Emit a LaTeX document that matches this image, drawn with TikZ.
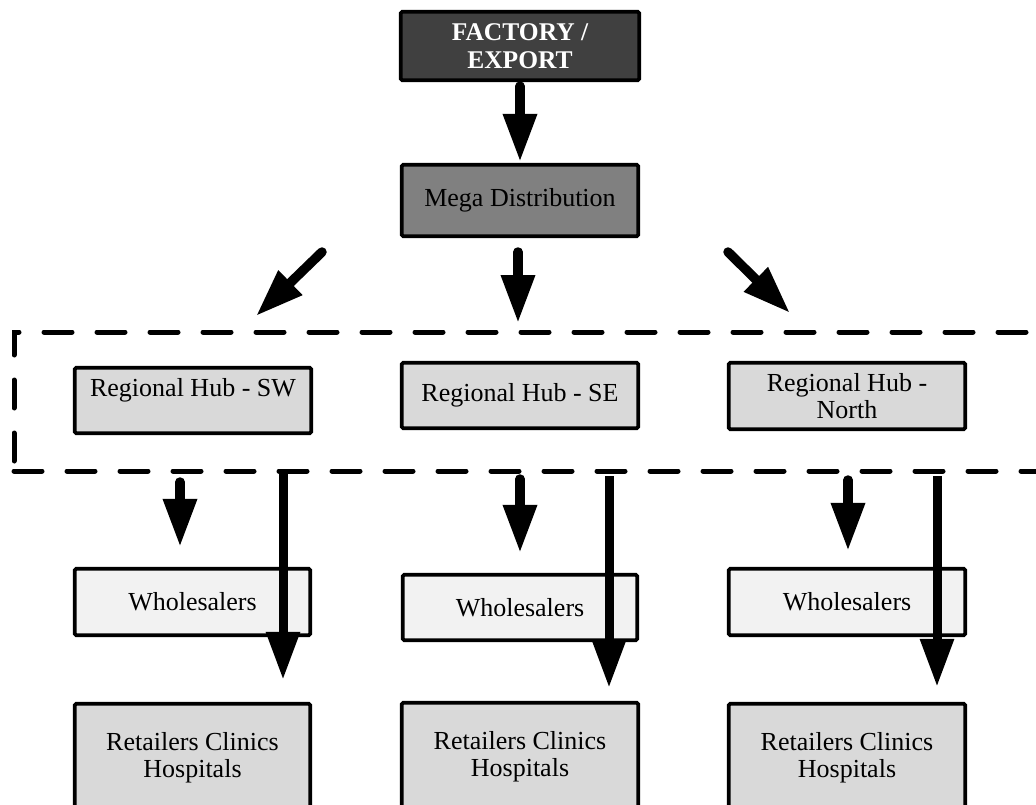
\documentclass[tikz,border=0pt]{standalone}
\usepackage{fontspec}
\setmainfont{Liberation Serif}
\usetikzlibrary{arrows.meta}
\definecolor{factoryfill}{HTML}{404040}
\definecolor{megafill}{HTML}{808080}
\definecolor{hubfill}{HTML}{D9D9D9}
\definecolor{wholefill}{HTML}{F2F2F2}
\definecolor{retailfill}{HTML}{D9D9D9}
\begin{document}
\begin{tikzpicture}[x=1pt,y=-1pt,
  box/.style={draw=black, line width=3.8pt, rounded corners=1.5pt,
    align=center, inner sep=0pt, font=\fontsize{26}{27}\selectfont},
  zone/.style={draw=black, line width=5pt, line cap=round,
    dash pattern=on 28pt off 25pt, inner sep=0pt},
  arr/.style={line width=9.5pt, line cap=round,
    -{Triangle[width=32pt,length=48pt]}},
  longarr/.style={line width=9pt,
    -{Triangle[width=32pt,length=48pt]}}
]
\clip (0,0) rectangle (1036,805);
\fill[white] (0,0) rectangle (1036,805);

% top of the chain
\node[box, fill=factoryfill, text=white, font=\fontsize{25.5}{28}\selectfont\bfseries,
      minimum width=238.5pt, minimum height=68.5pt] (factory) at (520,46) {FACTORY /\\EXPORT};
\node[box, fill=megafill, minimum width=236.5pt, minimum height=71.5pt] (mega) at (520,200.5) {Mega Distribution};

% dashed frame around the regional hubs
\node[zone, minimum width=1046pt, minimum height=139pt] (hubzone) at (537,401.5) {};

\node[box, fill=hubfill, minimum width=236.5pt, minimum height=65.5pt] (hubSW) at (193,400.5) {Regional Hub - SW\\\mbox{}};
\node[box, fill=hubfill, minimum width=236.5pt, minimum height=65.5pt] (hubSE) at (520,395.5) {Regional Hub - SE};
\node[box, fill=hubfill, minimum width=236.5pt, minimum height=66.5pt] (hubN) at (847,396) {Regional Hub -\\North};

% wholesalers
\node[box, fill=wholefill, minimum width=235.5pt, minimum height=66.5pt] (wsSW) at (192.5,602) {Wholesalers};
\node[box, fill=wholefill, minimum width=234.5pt, minimum height=65.5pt] (wsSE) at (520,607.5) {Wholesalers};
\node[box, fill=wholefill, minimum width=236.5pt, minimum height=66.5pt] (wsN) at (847,602) {Wholesalers};

% retailers, clinics and hospitals
\node[box, fill=retailfill, minimum width=235.5pt, minimum height=108.5pt] (rtSW) at (192.5,758) {Retailers Clinics\\Hospitals};
\node[box, fill=retailfill, minimum width=236.5pt, minimum height=108.5pt] (rtSE) at (520,757) {Retailers Clinics\\Hospitals};
\node[box, fill=retailfill, minimum width=236.5pt, minimum height=108.5pt] (rtN) at (847,758) {Retailers Clinics\\Hospitals};

% free ends of the fan-out arrows
\coordinate (dLa) at (322,252);
\coordinate (dLb) at (256,316);
\coordinate (dMa) at (518,252);
\coordinate (dMb) at (518,323);
\coordinate (dRa) at (728,252);
\coordinate (dRb) at (790,313);

% arrow columns below the hubs
\coordinate (sSW) at (180,482);
\coordinate (sSE) at (520,479);
\coordinate (sN)  at (848,480);
\coordinate (lSW) at (283,474);
\coordinate (lSE) at (609,476);
\coordinate (lN)  at (937,476);

\draw[arr, shorten <=4pt, shorten >=1pt] (factory.south) -- (mega.north);
\draw[arr] (dLa) -- (dLb);
\draw[arr] (dMa) -- (dMb);
\draw[arr] (dRa) -- (dRb);

\draw[arr, shorten >=20pt] (sSW) -- (wsSW.north -| sSW);
\draw[arr, shorten >=20pt] (sSE) -- (wsSE.north -| sSE);
\draw[arr, shorten >=16pt] (sN) -- (wsN.north -| sN);

\draw[longarr, shorten >=22pt] (lSW) -- (rtSW.north -| lSW);
\draw[longarr, shorten >=13pt] (lSE) -- (rtSE.north -| lSE);
\draw[longarr, shorten >=15pt] (lN) -- (rtN.north -| lN);
\end{tikzpicture}
\end{document}
